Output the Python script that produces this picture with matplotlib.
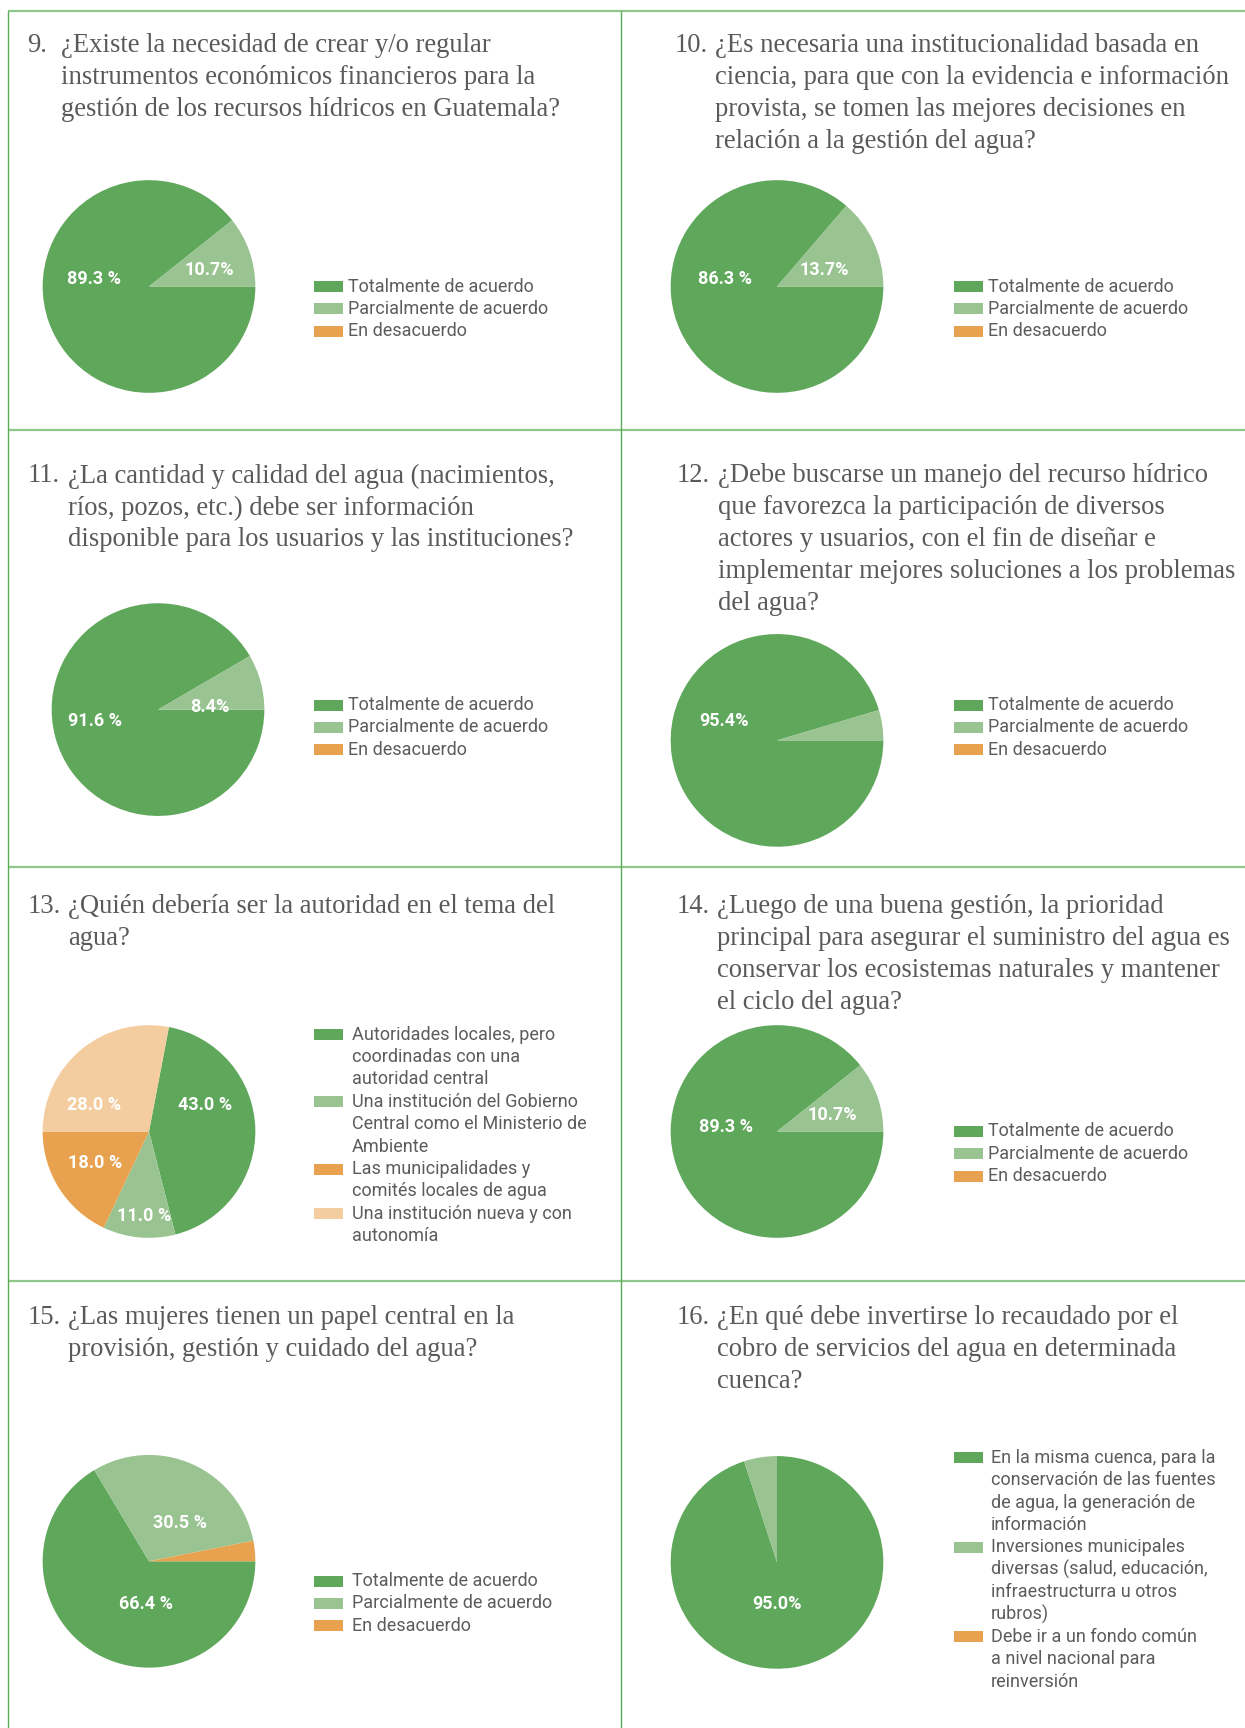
import matplotlib.pyplot as plt
from matplotlib.patches import Rectangle
import numpy as np

W, H = 1245, 1728

# colores
VERDE = '#5fa75b'
VERDE_CLARO = '#99c390'
NARANJA = '#e8a24f'
DURAZNO = '#f3cda0'
GRIS = '#5a5a5a'

# respuestas estándar
opciones_acuerdo = ['Totalmente de acuerdo', 'Parcialmente de acuerdo', 'En desacuerdo']
opciones_13 = ['Autoridades locales, pero\ncoordinadas con una\nautoridad central',
               'Una institución del Gobierno\nCentral como el Ministerio de\nAmbiente',
               'Las municipalidades y\ncomités locales de agua',
               'Una institución nueva y con\nautonomía']
opciones_16 = ['En la misma cuenca, para la\nconservación de las fuentes\nde agua, la generación de\ninformación',
               'Inversiones municipales\ndiversas (salud, educación,\ninfraestructurra u otros\nrubros)',
               'Debe ir a un fondo común\na nivel nacional para\nreinversión']

numeros = ['9.', '10.', '11.', '12.', '13.', '14.', '15.', '16.']
preguntas = [
    ['¿Existe la necesidad de crear y/o regular',
     'instrumentos económicos financieros para la',
     'gestión de los recursos hídricos en Guatemala?'],
    ['¿Es necesaria una institucionalidad basada en',
     'ciencia, para que con la evidencia e información',
     'provista, se tomen las mejores decisiones en',
     'relación a la gestión del agua?'],
    ['¿La cantidad y calidad del agua (nacimientos,',
     'ríos, pozos, etc.) debe ser información',
     'disponible para los usuarios y las instituciones?'],
    ['¿Debe buscarse un manejo del recurso hídrico',
     'que favorezca la participación de diversos',
     'actores y usuarios, con el fin de diseñar e',
     'implementar mejores soluciones a los problemas',
     'del agua?'],
    ['¿Quién debería ser la autoridad en el tema del',
     'agua?'],
    ['¿Luego de una buena gestión, la prioridad',
     'principal para asegurar el suministro del agua es',
     'conservar los ecosistemas naturales y mantener',
     'el ciclo del agua?'],
    ['¿Las mujeres tienen un papel central en la',
     'provisión, gestión y cuidado del agua?'],
    ['¿En qué debe invertirse lo recaudado por el',
     'cobro de servicios del agua en determinada',
     'cuenca?'],
]

# porcentajes por pregunta
valores = [
    [89.3, 10.7, 0.0],
    [86.3, 13.7, 0.0],
    [91.6, 8.4, 0.0],
    [95.4, 4.6, 0.0],
    [43.0, 11.0, 18.0, 28.0],
    [89.3, 10.7, 0.0],
    [66.4, 30.5, 3.1],
    [95.0, 5.0, 0.0],
]
etiquetas = [
    ['89.3 %', '10.7%', ''],
    ['86.3 %', '13.7%', ''],
    ['91.6 %', '8.4%', ''],
    ['95.4%', '', ''],
    ['43.0 %', '11.0 %', '18.0 %', '28.0 %'],
    ['89.3 %', '10.7%', ''],
    ['66.4 %', '30.5 %', ''],
    ['95.0%', '', ''],
]
leyendas = [opciones_acuerdo] * 4 + [opciones_13, opciones_acuerdo, opciones_acuerdo, opciones_16]

# layout (pixeles)
colores3 = [VERDE, VERDE_CLARO, NARANJA]
colores4 = [VERDE, VERDE_CLARO, NARANJA, DURAZNO]
inicio = [0, 0, 0, 0, 79.2, 0, 0, 90]
centros = [(149, 286.5), (777, 286.5), (158, 709.6), (777, 740.4),
           (149, 1131.5), (777, 1131.5), (149, 1561.3), (777, 1562.4)]
R = 107.4
# posicion de etiquetas (angulo, fraccion del radio)
pos_etiq = [
    [(172, 0.52), (15, 0.59), None],
    [(171.5, 0.49), (19, 0.47), None],
    [(190, 0.60), (2.4, 0.49), None],
    [(159.4, 0.53), None, None],
    [(25, 0.58), (267, 0.80), (210, 0.59), (154, 0.57)],
    [(175, 0.48), (17, 0.54), None],
    [(266, 0.40), (51, 0.46), None],
    [(270, 0.39), None, None],
]
titulo_pos = [(27.5, 60.6, 45), (674.3, 715, 45), (27.5, 68.3, 476), (676.5, 718.4, 476),
              (27.5, 68.3, 906.7), (676.5, 717.3, 906.7), (27.5, 68.3, 1317.7), (676.5, 717.3, 1317.7)]
leyenda_pos = [(314, 286.5, 34), (954, 286.5, 34), (314, 705, 34), (954, 705, 34),
               (314, 1034.6, 38), (954, 1131.5, 34), (314, 1581, 38), (954, 1457.7, 37)]

fig = plt.figure(figsize=(W / 100, H / 100), dpi=100)
fig.patch.set_facecolor('white')

base = fig.add_axes([0, 0, 1, 1])
base.set_xlim(0, W)
base.set_ylim(H, 0)
base.axis('off')

# bordes de la tabla
for y in [11, 430, 867, 1281]:
    base.plot([8, W], [y, y], color='#8fc68a', lw=1.6, solid_capstyle='butt')
for x in [8, 621]:
    base.plot([x, x], [11, H], color='#5aab55', lw=1.0, solid_capstyle='butt')

for i in range(8):
    xn, xt, y0 = titulo_pos[i]
    base.text(xn, y0, numeros[i], family='Liberation Serif', fontsize=19.2, color=GRIS, va='center', ha='left')
    for j, linea in enumerate(preguntas[i]):
        base.text(xt, y0 + j * 32, linea, family='Liberation Serif', fontsize=19.2, color=GRIS, va='center', ha='left')

    # leyenda
    lx, ly, off = leyenda_pos[i]
    cols = colores4 if len(valores[i]) == 4 else colores3
    fila = 0
    for k, txt in enumerate(leyendas[i]):
        yy = ly + fila * 22.4
        base.add_patch(Rectangle((lx, yy - 5.5), 28.6, 11, facecolor=cols[k], edgecolor='none'))
        for m, parte in enumerate(txt.split('\n')):
            base.text(lx + off, yy + m * 22.4, parte, family='Roboto', fontsize=13,
                      color='#5c5c5c', va='center', ha='left')
        fila += len(txt.split('\n'))

    # pastel
    cx, cy = centros[i]
    ax = fig.add_axes([(cx - R) / W, 1 - (cy + R) / H, 2 * R / W, 2 * R / H])
    ax.pie(valores[i], colors=cols, startangle=inicio[i], counterclock=False, radius=1,
           wedgeprops=dict(linewidth=0))
    ax.set_xlim(-1.01, 1.01)
    ax.set_ylim(-1.01, 1.01)
    ax.set_aspect('equal')
    ax.axis('off')
    for k, lab in enumerate(etiquetas[i]):
        if lab and pos_etiq[i][k] is not None:
            ang, r = pos_etiq[i][k]
            ax.text(r * np.cos(np.radians(ang)), r * np.sin(np.radians(ang)), lab,
                    family='Roboto', fontweight='bold', fontsize=13, color='white',
                    ha='center', va='center')

fig.savefig('out.png', dpi=100, facecolor='white')
